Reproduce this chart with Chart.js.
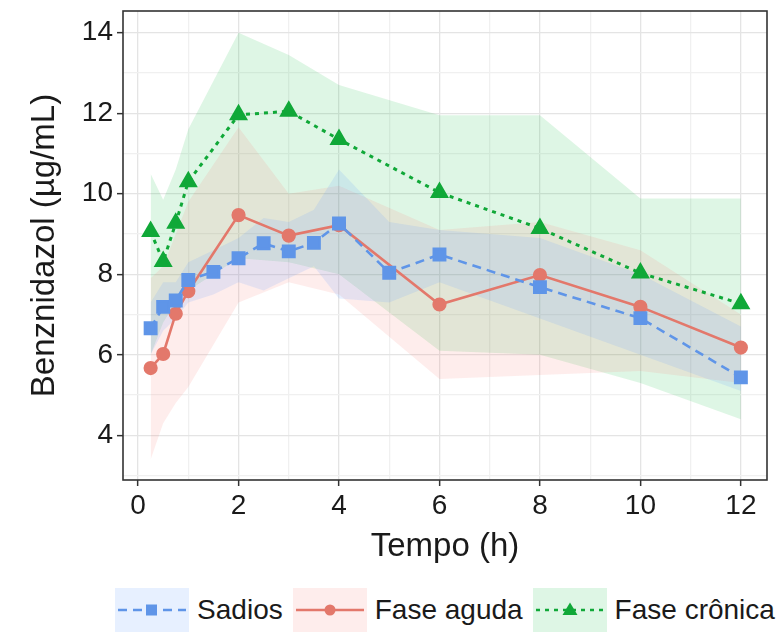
<!DOCTYPE html>
<html>
<head>
<meta charset="UTF-8">
<title>Benznidazol</title>
<script src="https://cdn.jsdelivr.net/npm/chart.js"></script>
<style>
  body { margin: 0; background: #fff; font-family: "Liberation Sans", Arial, sans-serif; }
  #wrap { position: relative; width: 779px; height: 634px; }
  #box { position: absolute; left: 0; top: 0; width: 779px; height: 580px; }
  #legend { position: absolute; left: 100px; width: 690px; top: 588px; height: 44px;
            display: flex; justify-content: center; align-items: center; color: #1a1a1a; font-size: 28px; }
  .key { width: 74px; height: 44px; margin-right: 8px; }
  .lab { margin-right: 10px; }
  .lab:last-child { margin-right: 0; }
</style>
</head>
<body>
<div id="wrap">
  <div id="box"><canvas id="c"></canvas></div>
  <div id="legend"></div>
</div>
<script>
// tempos (h) e medias
const xSadios = [0.25, 0.5, 0.75, 1, 1.5, 2, 2.5, 3, 3.5, 4, 5, 6, 8, 10, 12];
const ySadios = [6.66, 7.19, 7.35, 7.86, 8.06, 8.40, 8.77, 8.57, 8.78, 9.26, 8.04, 8.49, 7.68, 6.91, 5.44];
const loSadios = [6.0, 6.6, 6.9, 7.3, 7.5, 7.8, 7.6, 7.9, 8.2, 7.4, 7.3, 7.8, 6.9, 6.0, 5.1];
const hiSadios = [7.3, 7.8, 7.8, 8.3, 8.6, 8.9, 9.4, 9.3, 9.6, 10.6, 9.3, 9.1, 8.9, 8.0, 6.7];

const xFases = [0.25, 0.5, 0.75, 1, 2, 3, 4, 6, 8, 10, 12];
const yAguda = [5.67, 6.02, 7.02, 7.58, 9.47, 8.96, 9.22, 7.25, 7.98, 7.19, 6.18];
const loAguda = [3.4, 4.3, 4.8, 5.2, 7.3, 7.8, 7.5, 5.4, 5.5, 5.6, 5.3];
const hiAguda = [7.9, 8.2, 9.0, 9.8, 11.65, 10.0, 10.2, 9.1, 9.3, 8.6, 7.0];

const yCronica = [9.06, 8.32, 9.27, 10.30, 11.96, 12.05, 11.35, 10.03, 9.14, 8.03, 7.27];
const loCronica = [6.0, 6.8, 7.3, 7.6, 8.4, 8.3, 8.0, 6.1, 6.0, 5.3, 4.4];
const hiCronica = [10.5, 9.85, 10.6, 11.6, 14.0, 13.45, 12.7, 11.95, 11.95, 9.88, 9.88];

const grupos = ['Sadios', 'Fase aguda', 'Fase crônica'];
const cores = ['#5f95e8', '#e3786b', '#10a838'];
const fundos = ['rgba(97,156,255,0.15)', 'rgba(248,118,109,0.13)', 'rgba(0,186,56,0.13)'];

const xTicks = [0, 2, 4, 6, 8, 10, 12];
const yTicks = [4, 6, 8, 10, 12, 14];

const pts = (xs, ys) => xs.map((x, i) => ({ x: x, y: ys[i] }));

function ribbon(xs, lo, hi, cor) {
  return [
    { data: pts(xs, lo), pointRadius: 0, borderWidth: 0, fill: false, order: 2 },
    { data: pts(xs, hi), pointRadius: 0, borderWidth: 0, fill: '-1', backgroundColor: cor, order: 2 }
  ];
}

const datasets = [
  ...ribbon(xSadios, loSadios, hiSadios, fundos[0]),
  ...ribbon(xFases, loAguda, hiAguda, fundos[1]),
  ...ribbon(xFases, loCronica, hiCronica, fundos[2]),
  { label: grupos[0], data: pts(xSadios, ySadios), borderColor: cores[0], backgroundColor: cores[0],
    borderWidth: 2.6, borderDash: [9, 6], pointStyle: 'rect', pointRadius: 8, order: 0, fill: false },
  { label: grupos[1], data: pts(xFases, yAguda), borderColor: cores[1], backgroundColor: cores[1],
    borderWidth: 2.6, pointStyle: 'circle', pointRadius: 5.8, order: 0, fill: false },
  { label: grupos[2], data: pts(xFases, yCronica), borderColor: cores[2], backgroundColor: cores[2],
    borderWidth: 3, borderDash: [4, 5], pointStyle: 'triangle', pointRadius: 8, order: 0, fill: false }
];

const panelBorder = {
  id: 'panelBorder',
  afterDraw(chart) {
    const a = chart.chartArea, ctx = chart.ctx;
    ctx.save();
    ctx.strokeStyle = '#333';
    ctx.lineWidth = 1.6;
    ctx.strokeRect(a.left, a.top, a.right - a.left, a.bottom - a.top);
    ctx.restore();
  }
};

const tickFont = { family: '"Liberation Sans", Arial, sans-serif', size: 28 };
const titleFont = { family: '"Liberation Sans", Arial, sans-serif', size: 33 };
const isMajor = (v, list) => list.includes(v);

new Chart(document.getElementById('c'), {
  type: 'line',
  data: { datasets: datasets },
  options: {
    responsive: true,
    maintainAspectRatio: false,
    animation: false,
    layout: { padding: { left: 0, right: 12, top: 8, bottom: 0 } },
    plugins: { legend: { display: false }, tooltip: { enabled: false } },
    scales: {
      x: {
        type: 'linear', min: -0.30, max: 12.52,
        ticks: { stepSize: 1, includeBounds: false, autoSkip: false, maxRotation: 0, color: '#1a1a1a', font: tickFont, padding: 3,
                 callback: v => isMajor(v, xTicks) ? v : '' },
        grid: { color: c => isMajor(c.tick.value, xTicks) ? '#e4e4e4' : '#f0f0f0', lineWidth: 1.3,
                tickColor: c => isMajor(c.tick.value, xTicks) ? '#333' : 'rgba(0,0,0,0)', tickLength: 6, tickWidth: 1.5 },
        border: { display: false },
        title: { display: true, text: 'Tempo (h)', color: '#1a1a1a', font: titleFont, padding: { top: 0, bottom: 13 } },
        afterFit: s => { s.height = 100; s.paddingLeft = 0; s.paddingRight = 0; }
      },
      y: {
        type: 'linear', min: 2.89, max: 14.54,
        ticks: { stepSize: 1, includeBounds: false, autoSkip: false, color: '#1a1a1a', font: tickFont, padding: 4,
                 callback: v => isMajor(v, yTicks) ? v : '' },
        grid: { color: c => isMajor(c.tick.value, yTicks) ? '#e4e4e4' : '#f0f0f0', lineWidth: 1.3,
                tickColor: c => isMajor(c.tick.value, yTicks) ? '#333' : 'rgba(0,0,0,0)', tickLength: 6, tickWidth: 1.5 },
        border: { display: false },
        title: { display: true, text: 'Benznidazol (µg/mL)', color: '#1a1a1a', font: titleFont, padding: { top: 25, bottom: 0 } },
        afterFit: s => { s.width = 123; s.paddingTop = 0; s.paddingBottom = 0; }
      }
    }
  },
  plugins: [panelBorder]
});

// legenda com chave sombreada, como no ggplot
const marcadores = [
  '<rect x="31" y="16.5" width="11" height="11" fill="' + cores[0] + '"/>',
  '<circle cx="37" cy="22" r="5.5" fill="' + cores[1] + '"/>',
  '<path d="M37 14.5 L44.5 27 L29.5 27 Z" fill="' + cores[2] + '"/>'
];
const tracos = ['9,6', '', '4,5'];
const leg = document.getElementById('legend');
grupos.forEach((g, i) => {
  const dash = tracos[i] ? ' stroke-dasharray="' + tracos[i] + '"' : '';
  leg.insertAdjacentHTML('beforeend',
    '<svg class="key" viewBox="0 0 74 44" style="background:' + fundos[i] + '">' +
    '<line x1="3" y1="22" x2="71" y2="22" stroke="' + cores[i] + '" stroke-width="2.6"' + dash + '/>' +
    marcadores[i] + '</svg><span class="lab">' + g + '</span>');
});
</script>
</body>
</html>
